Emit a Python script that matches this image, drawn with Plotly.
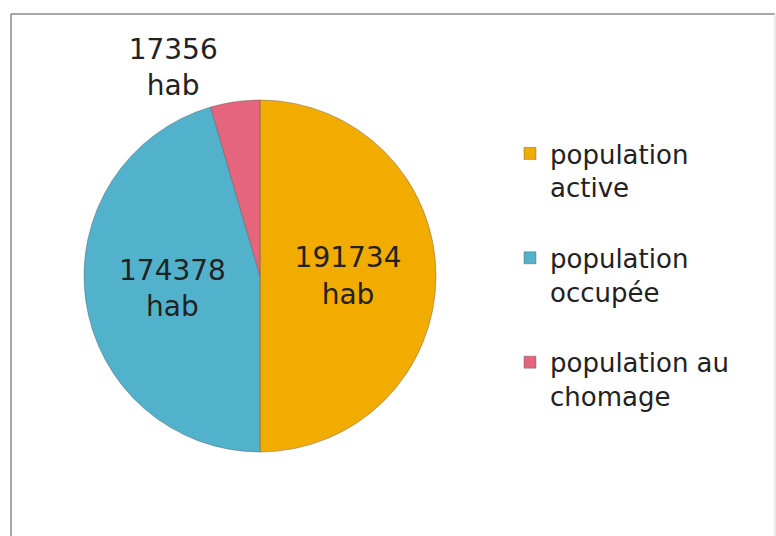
import plotly.graph_objects as go

categories = ["population active", "population occupée", "population au chomage"]
legend_labels = ["population<br>active", "population<br>occupée", "population au<br>chomage"]
values = [191734, 174378, 17356]
unit = "hab"
colors = ["#F2AC00", "#52B2CC", "#E4657C"]

W, H = 776, 536
cx, cy, r = 260, 276, 176

fig = go.Figure()
fig.add_trace(go.Pie(
    labels=[l + "<br> " for l in legend_labels],
    values=values,
    text=[f"{v}<br>{unit}" for v in values],
    textinfo="text",
    textposition=["inside", "inside", "outside"],
    insidetextorientation="horizontal",
    sort=False,
    direction="clockwise",
    rotation=0,
    marker=dict(colors=colors, line=dict(color="rgba(90,90,90,0.55)", width=0.8)),
    textfont=dict(family="DejaVu Sans", size=28, color="#222222"),
    hoverinfo="label+value",
    automargin=False,
    domain=dict(x=[(cx - r) / W, (cx + r) / W], y=[(H - cy - r) / H, (H - cy + r) / H]),
))

border = dict(color="#8a8a8a", width=1.5)
fig.update_layout(
    width=W, height=H,
    margin=dict(l=0, r=0, t=0, b=0),
    paper_bgcolor="white",
    plot_bgcolor="white",
    showlegend=True,
    legend=dict(
        x=510 / W, y=1 - 130 / H, xanchor="left", yanchor="top",
        font=dict(family="DejaVu Sans", size=26, color="#222222"),
        valign="top",
        bgcolor="rgba(0,0,0,0)",
    ),
    shapes=[
        dict(type="line", xref="paper", yref="paper", x0=11 / W, x1=11 / W, y0=0, y1=1 - 14 / H,
             line=border, layer="below"),
        dict(type="line", xref="paper", yref="paper", x0=11 / W, x1=775 / W, y0=1 - 14 / H, y1=1 - 14 / H,
             line=border, layer="below"),
        dict(type="line", xref="paper", yref="paper", x0=775 / W, x1=775 / W, y0=0, y1=1 - 14 / H,
             line=dict(color="#e4e4e4", width=1.5), layer="below"),
    ],
)

fig.write_html("out.html", config={"displayModeBar": False},
               post_script="document.body.style.margin='0';document.body.style.overflow='hidden';")
